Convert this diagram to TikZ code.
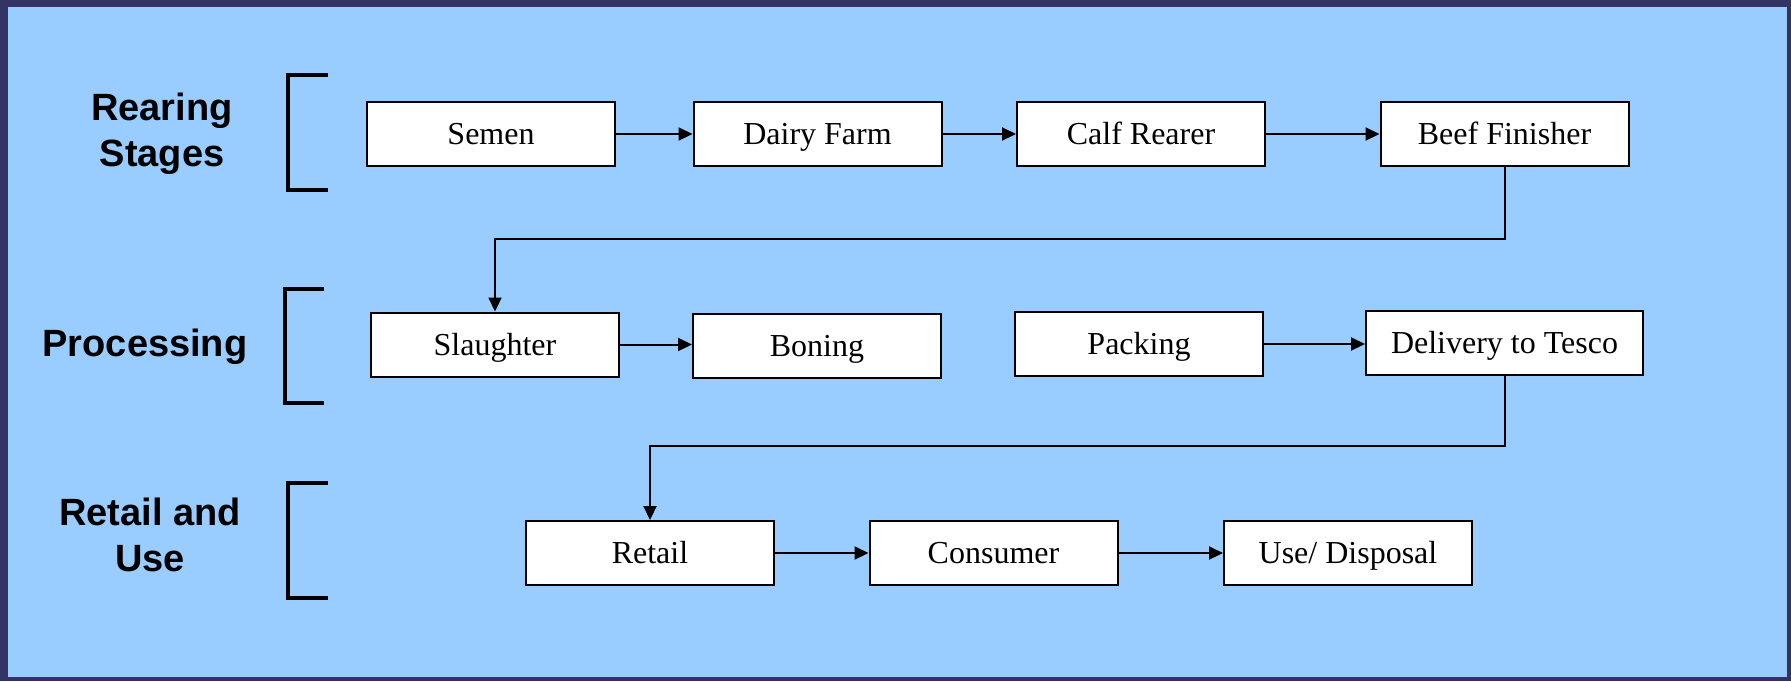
\documentclass[tikz,border=0pt]{standalone}
\usepackage{fontspec}
\setmainfont{Liberation Serif}
\newfontfamily\stagefont{Liberation Sans}
\usepackage{tikz}
\usetikzlibrary{arrows.meta}
\definecolor{frameblue}{HTML}{333366}
\definecolor{skyblue}{HTML}{99CCFF}

\begin{document}
\begin{tikzpicture}[x=0.5pt,y=-0.5pt,
    box/.style={draw,fill=white,line width=1pt,minimum width=124pt,minimum height=32pt,inner sep=0pt,text height=13.5pt,text depth=3pt,font=\fontsize{16}{18}\selectfont},
    stage/.style={align=center,font=\stagefont\bfseries\fontsize{19}{23}\selectfont},
    brk/.style={line width=1.6pt},
    tri/.style={line width=1pt,-{Triangle[length=7pt,width=6.5pt]}}]
                      \useasboundingbox (0,0) rectangle (1791,681);
                      \fill[frameblue] (0,0) rectangle (1791,681);
                      \fill[skyblue] (8,7) rectangle (1787,677);
                      % stage labels and brackets
                      \node[stage](rearing)at(162,134){Rearing\\Stages};
                      \node[stage](processing)at(145,347){Processing};
                      \node[stage](retailuse)at(150,535){Retail and\\Use};
                      \draw[brk] (328,75) -| (288,190) -- (328,190);
                      \draw[brk] (324,289) -| (285,403) -- (324,403);
                      \draw[brk] (328,483) -| (288,598) -- (328,598);
                      % rearing
                      \node[box](semen)at(491,134){Semen};
                      \node[box](dairy)at(817.5,134){Dairy Farm};
                      \node[box](calf)at(1141,134){Calf Rearer};
                      \node[box](beef)at(1504.5,134){Beef Finisher};
                      \draw[tri] (semen) -- (dairy);
                      \draw[tri] (dairy) -- (calf);
                      \draw[tri] (calf) -- (beef);
                      % processing
                      \node[box](slaughter)at(495,344.5){Slaughter};
                      \node[box](boning)at(817,345.5){Boning};
                      \node[box](packing)at(1139,344){Packing};
                      \node[box,minimum width=138.5pt](delivery)at(1504.5,343){Delivery to Tesco};
                      \draw[tri] (beef.south) -- ++(0,72) -| (slaughter.north);
                      \draw[tri] (slaughter.east) -- (slaughter.east -| boning.west);
                      \draw[tri] (packing.east) -- (packing.east -| delivery.west);
                      % retail and use
                      \node[box](retail)at(650,553){Retail};
                      \node[box](consumer)at(993.5,553){Consumer};
                      \node[box](disposal)at(1348,553){Use/ Disposal};
                      \draw[tri] (delivery.south) -- ++(0,70) -| (retail.north);
                      \draw[tri] (retail) -- (consumer);
                      \draw[tri] (consumer) -- (disposal);
                  \end{tikzpicture}
\end{document}
